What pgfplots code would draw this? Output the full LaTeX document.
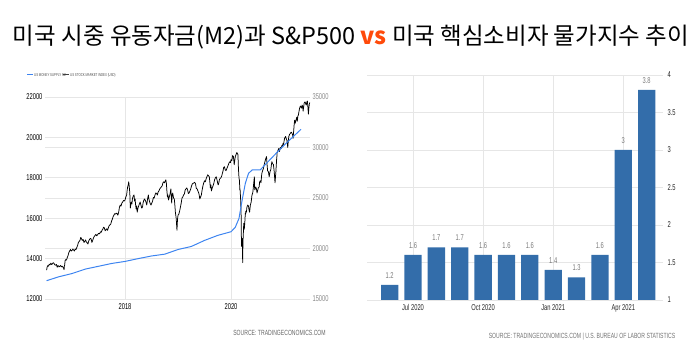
\documentclass[border=0pt]{standalone}
\usepackage{pgfplots}
\pgfplotsset{compat=1.18}
\usepackage{fontspec}
\setmainfont{Liberation Sans}
\newfontfamily\narrow{Liberation Sans}[FakeStretch=0.68]
\newfontfamily\kr{Noto Sans CJK KR}
\definecolor{gridgray}{HTML}{E6E6E6}
\definecolor{m2blue}{HTML}{3D84F0}
\definecolor{barblue}{HTML}{336DAA}
\definecolor{labgray}{HTML}{8A8A8A}
\definecolor{valgray}{HTML}{7A7A7A}
\definecolor{vsorange}{HTML}{FF4A0A}

\pgfplotstableread{
year dow
2016.52 17860
2016.53 18150
2016.54 18300
2016.555 18250
2016.57 18450
2016.585 18380
2016.60 18550
2016.615 18420
2016.63 18480
2016.645 18600
2016.66 18520
2016.675 18380
2016.69 18350
2016.705 18420
2016.72 18150
2016.73 18280
2016.74 18300
2016.755 18180
2016.77 18250
2016.785 18320
2016.80 18180
2016.815 18250
2016.83 18140
2016.84 18050
2016.85 17900
2016.855 18250
2016.86 18330
2016.87 18800
2016.88 18900
2016.895 18850
2016.91 19100
2016.925 19300
2016.94 19600
2016.955 19750
2016.97 19900
2016.985 19750
2017.00 19800
2017.015 19950
2017.03 19850
2017.045 19750
2017.06 19950
2017.075 19900
2017.09 20100
2017.105 20300
2017.12 20600
2017.135 20700
2017.15 20800
2017.165 21100
2017.18 20950
2017.195 20800
2017.21 20900
2017.225 20600
2017.24 20700
2017.255 20850
2017.27 20650
2017.285 20550
2017.30 20450
2017.315 20750
2017.33 20900
2017.345 21000
2017.36 20950
2017.375 20600
2017.39 20800
2017.405 21050
2017.42 21200
2017.435 21300
2017.45 21400
2017.465 21250
2017.48 21350
2017.50 21500
2017.52 21450
2017.535 21650
2017.55 21600
2017.565 21800
2017.58 21900
2017.595 22100
2017.61 22050
2017.625 21750
2017.64 21850
2017.655 21950
2017.67 21800
2017.685 22050
2017.70 22250
2017.715 22350
2017.73 22400
2017.745 22700
2017.76 22900
2017.775 23150
2017.79 23300
2017.805 23450
2017.82 23400
2017.835 23500
2017.85 23450
2017.865 23300
2017.88 23600
2017.895 24100
2017.91 24300
2017.925 24200
2017.94 24500
2017.955 24600
2017.97 24750
2017.985 24700
2018.00 24800
2018.015 25100
2018.03 25300
2018.04 25750
2018.05 26100
2018.06 26300
2018.07 26600
2018.08 26100
2018.09 25500
2018.095 24700
2018.10 24000
2018.11 24400
2018.12 24600
2018.13 24400
2018.14 24950
2018.155 25200
2018.17 25300
2018.18 24700
2018.19 24900
2018.20 24300
2018.21 23900
2018.22 24200
2018.23 23600
2018.24 23900
2018.25 24100
2018.26 24250
2018.27 24400
2018.285 24600
2018.30 24300
2018.315 24000
2018.33 24100
2018.34 24500
2018.35 24700
2018.365 24900
2018.38 24800
2018.395 24600
2018.41 24300
2018.425 24900
2018.44 25300
2018.45 24900
2018.46 24700
2018.475 24450
2018.49 24300
2018.505 24500
2018.52 24700
2018.535 25050
2018.55 25000
2018.565 25300
2018.58 25500
2018.595 25450
2018.61 25300
2018.625 25600
2018.64 25700
2018.655 25900
2018.67 26000
2018.685 26100
2018.70 26200
2018.715 26500
2018.73 26600
2018.745 26500
2018.76 26700
2018.77 26800
2018.78 26450
2018.79 25700
2018.80 25100
2018.81 25300
2018.82 24800
2018.835 25100
2018.85 25400
2018.865 25900
2018.88 24500
2018.89 25300
2018.90 25500
2018.915 25000
2018.93 24900
2018.94 24300
2018.95 23600
2018.965 23000
2018.98 21800
2018.99 22900
2019.00 23300
2019.015 23400
2019.03 23700
2019.045 24100
2019.06 24500
2019.075 25000
2019.09 25100
2019.105 25300
2019.12 25400
2019.135 25800
2019.15 25900
2019.165 26000
2019.18 25800
2019.195 25450
2019.21 25500
2019.225 25700
2019.24 25900
2019.255 26200
2019.27 26400
2019.285 26450
2019.30 26500
2019.315 26550
2019.33 26400
2019.345 25950
2019.36 25900
2019.375 25700
2019.39 25500
2019.40 25300
2019.41 24900
2019.425 25100
2019.44 25300
2019.455 25800
2019.47 26200
2019.485 26500
2019.50 26700
2019.515 26600
2019.53 26900
2019.545 27100
2019.56 27300
2019.575 27200
2019.59 27100
2019.60 26600
2019.61 26000
2019.62 26300
2019.63 25700
2019.645 26000
2019.66 26200
2019.675 26450
2019.69 26800
2019.705 27000
2019.72 27100
2019.73 26900
2019.74 26700
2019.75 26400
2019.76 26300
2019.77 26500
2019.78 26800
2019.795 26950
2019.81 27000
2019.825 27200
2019.84 27500
2019.85 27700
2019.86 28000
2019.875 28100
2019.89 27800
2019.905 27700
2019.92 27900
2019.935 28100
2019.95 28300
2019.965 28500
2019.98 28600
2019.99 28500
2020.00 28800
2020.015 28700
2020.03 29200
2020.045 29100
2020.06 28300
2020.07 28700
2020.08 29100
2020.095 29300
2020.11 29500
2020.12 29400
2020.13 29300
2020.14 27900
2020.15 27000
2020.16 26700
2020.165 25800
2020.17 25900
2020.18 25000
2020.19 23500
2020.195 21200
2020.20 20200
2020.21 21000
2020.215 19900
2020.22 18600
2020.225 20700
2020.23 21200
2020.24 22500
2020.25 21900
2020.26 22600
2020.27 23500
2020.275 23400
2020.28 23700
2020.29 23600
2020.30 24100
2020.315 24300
2020.33 24200
2020.34 23800
2020.35 23600
2020.365 24300
2020.38 24600
2020.395 25300
2020.41 25500
2020.425 26300
2020.44 27100
2020.445 26000
2020.45 25800
2020.465 26100
2020.48 25900
2020.49 25500
2020.50 25700
2020.515 26000
2020.53 26100
2020.54 26600
2020.55 26700
2020.565 26500
2020.58 27400
2020.595 27700
2020.61 27900
2020.625 28300
2020.64 28600
2020.655 28900
2020.67 29100
2020.68 28300
2020.69 27700
2020.705 27600
2020.72 27100
2020.735 27600
2020.75 27800
2020.76 28200
2020.77 28600
2020.785 28400
2020.80 28300
2020.815 27600
2020.83 26500
2020.845 27500
2020.86 28800
2020.865 29100
2020.87 29500
2020.885 29700
2020.90 29900
2020.915 29600
2020.93 30000
2020.945 29900
2020.96 30200
2020.97 30100
2020.98 30400
2020.99 30300
2021.00 30600
2021.01 30900
2021.02 31000
2021.03 31100
2021.04 30900
2021.055 30700
2021.07 30000
2021.08 30600
2021.09 31100
2021.105 31300
2021.12 31400
2021.13 31500
2021.14 31500
2021.15 31400
2021.16 31300
2021.17 30900
2021.18 31500
2021.19 32200
2021.20 32700
2021.21 32400
2021.22 32600
2021.23 32800
2021.24 33000
2021.25 32600
2021.26 33100
2021.27 33200
2021.28 33500
2021.29 33800
2021.30 34000
2021.31 34100
2021.32 34000
2021.33 33900
2021.34 34200
2021.35 34100
2021.36 33600
2021.37 34000
2021.38 34400
2021.39 34500
2021.40 34500
2021.41 34300
2021.42 34200
2021.43 34500
2021.44 34600
2021.45 34000
2021.46 33300
2021.47 34000
2021.48 34400
2021.49 34450
}\dowtable

\pgfplotstableread{
year m2
2016.52 12906
2016.75 13100
2017.00 13260
2017.25 13480
2017.50 13620
2017.75 13760
2018.00 13860
2018.25 14000
2018.50 14130
2018.75 14220
2019.00 14450
2019.25 14600
2019.50 14900
2019.75 15150
2020.00 15330
2020.08 15550
2020.15 15990
2020.21 16900
2020.27 17730
2020.33 18220
2020.40 18390
2020.55 18390
2020.67 18720
2020.85 19210
2021.04 19710
2021.32 20400
}\mtwotable

\pgfplotstableread{
idx cpi
0 1.2
1 1.6
2 1.7
3 1.7
4 1.6
5 1.6
6 1.6
7 1.4
8 1.3
9 1.6
10 3.0
11 3.8
}\cpitable

\begin{document}
\begin{tikzpicture}[x=1pt,y=1pt]
\path (0,0) rectangle (700,363);
% title
\node[anchor=center] at (351,326) {\kr\fontsize{23.5}{26}\selectfont 미국 시중 유동자금(M2)과 S\&P500 {\color{vsorange}\bfseries vs} 미국 핵심소비자 물가지수 추이};

% ---- left chart: Dow (right axis) with all grids
\begin{axis}[
  at={(45pt,64pt)}, anchor=south west, scale only axis,
  width=265pt, height=202pt,
  xmin=2016.49, xmax=2021.49, ymin=15000, ymax=35000,
  axis line style={draw=none}, major tick length=0pt,
  axis y line*=right, axis x line*=bottom,
  xtick={2018,2020}, xticklabels={2018,2020},
  xticklabel style={font=\narrow\fontsize{8.5}{9}\selectfont, text=black, yshift=-1pt},
  ytick={15000,20000,25000,30000,35000},
  yticklabels={15000,20000,25000,30000,35000},
  yticklabel style={font=\narrow\fontsize{8.5}{9}\selectfont, text=labgray, xshift=-1pt},
  extra y ticks={19000,23000,27000,31000}, extra y tick labels={},
  extra y tick style={grid=major},
  ymajorgrids, xmajorgrids,
  grid style={gridgray, line width=0.6pt},
  scaled ticks=false,
]
\addplot[black, line width=0.75pt, line join=round] table[x=year, y=dow] {\dowtable};
\end{axis}
% M2 (left axis)
\begin{axis}[
  at={(45pt,64pt)}, anchor=south west, scale only axis,
  width=265pt, height=202pt,
  xmin=2016.49, xmax=2021.49, ymin=12000, ymax=22000,
  axis line style={draw=none}, major tick length=0pt,
  axis y line*=left, axis x line=none,
  ytick={12000,14000,16000,18000,20000,22000},
  yticklabels={12000,14000,16000,18000,20000,22000},
  yticklabel style={font=\narrow\fontsize{8.5}{9}\selectfont, text=black, xshift=1pt},
  scaled ticks=false,
]
\addplot[m2blue, line width=1pt] table[x=year, y=m2] {\mtwotable};
\end{axis}
% legend
\draw[m2blue, line width=1pt] (27,288) -- (33,288);
\node[anchor=west, inner sep=0pt, text=black!70] at (34,288) {\narrow\fontsize{4.2}{5}\selectfont US MONEY SUPPLY M2};
\draw[black!75, line width=1pt] (63,288) -- (69,288);
\node[anchor=west, inner sep=0pt, text=black!70] at (70,288) {\narrow\fontsize{4.2}{5}\selectfont US STOCK MARKET INDEX (USD)};
\node[anchor=center, text=black!60] at (279.5,30) {\narrow\fontsize{7.5}{8}\selectfont SOURCE: TRADINGECONOMICS.COM};

% ---- right chart: core CPI bars
\begin{axis}[
  at={(367pt,63pt)}, anchor=south west, scale only axis,
  width=296pt, height=225pt,
  xmin=-0.97, xmax=11.7, ymin=1, ymax=4,
  axis line style={draw=none}, major tick length=0pt,
  axis y line*=right, axis x line*=bottom,
  ybar, bar width=17.3pt,
  xtick={1,4,7,10}, xticklabels={Jul 2020,Oct 2020,Jan 2021,Apr 2021},
  xticklabel style={font=\narrow\fontsize{8.5}{9}\selectfont, text=black!85, yshift=-1pt},
  ytick={1,1.5,2,2.5,3,3.5,4},
  yticklabels={1,1.5,2,2.5,3,3.5,4},
  yticklabel style={font=\narrow\fontsize{8.5}{9}\selectfont, text=black!85, xshift=1pt},
  ymajorgrids, xmajorgrids,
  grid style={gridgray, line width=0.6pt},
  nodes near coords={\pgfmathprintnumber[assume math mode=true]{\pgfplotspointmeta}},
  nodes near coords style={font=\narrow\fontsize{8.5}{9}\selectfont, text=valgray, yshift=3pt},
]
\addplot[fill=barblue, draw=none] table[x=idx, y=cpi] {\cpitable};
\end{axis}
\node[anchor=center, text=black!55] at (582,26) {\narrow\fontsize{7.5}{8}\selectfont SOURCE: TRADINGECONOMICS.COM | U.S. BUREAU OF LABOR STATISTICS};
\pgfresetboundingbox
\path (0,0) rectangle (700,363);
\end{tikzpicture}
\end{document}
